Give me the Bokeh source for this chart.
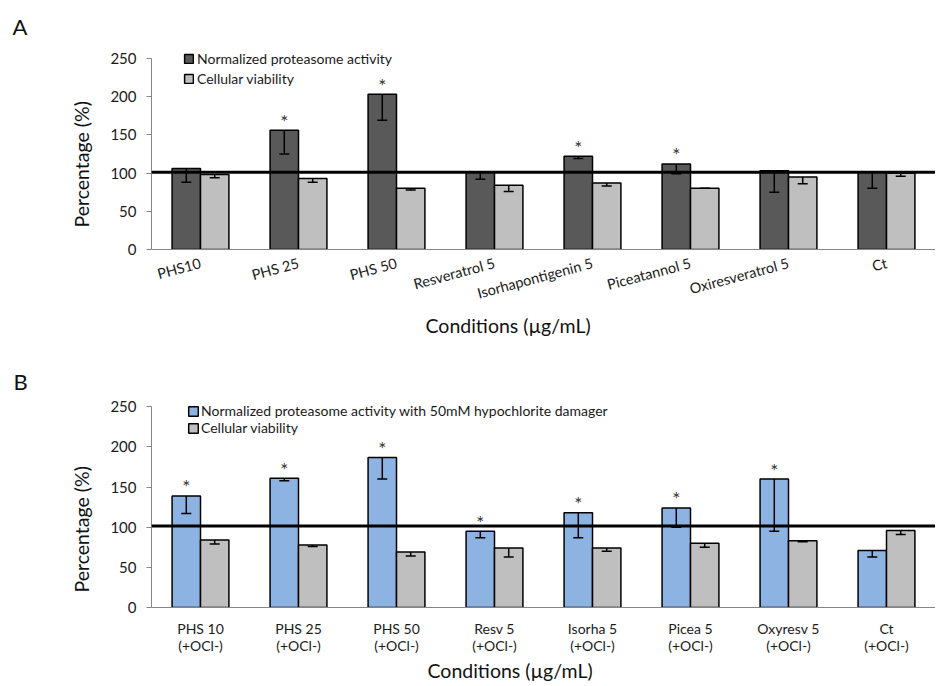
import math
from bokeh.plotting import figure
from bokeh.models import (FactorRange, Range1d, Span, Whisker, TeeHead, Legend,
                          LegendItem, Title, ColumnDataSource, FixedTicker)
from bokeh.transform import dodge
from bokeh.layouts import column
from bokeh.core.properties import value
from bokeh.embed import file_html
from bokeh.resources import INLINE

# ---------------- data ----------------
cats_a = ["PHS10", "PHS 25", "PHS 50", "Resveratrol 5", "Isorhapontigenin 5",
          "Piceatannol 5", "Oxiresveratrol 5", "Ct"]
prot_a = [106, 156, 203, 101, 122, 112, 103, 101]
prot_a_err = [18, 31, 34, 9, 3, 13, 28, 21]
via_a = [98, 93, 80, 84, 87, 80, 95, 100]
via_a_err = [4, 5, 2, 8, 4, 0, 9, 4]
sig_a = [False, True, True, False, True, True, False, False]
ref_a = 101

cats_b = ["PHS 10\n(+OCl-)", "PHS 25\n(+OCl-)", "PHS 50\n(+OCl-)", "Resv 5\n(+OCl-)",
          "Isorha 5\n(+OCl-)", "Picea 5\n(+OCl-)", "Oxyresv 5\n(+OCl-)", "Ct\n(+OCl-)"]
prot_b = [139, 161, 187, 95, 118, 124, 160, 71]
prot_b_err = [22, 3, 27, 8, 31, 24, 65, 8]
via_b = [84, 78, 69, 74, 74, 80, 83, 96]
via_b_err = [5, 2, 5, 11, 4, 5, 1, 5]
sig_b = [True, True, True, True, True, True, True, False]
ref_b = 101.5

y_ticks = [0, 50, 100, 150, 200, 250]

legend_a = ["Normalized proteasome activity", "Cellular viability"]
legend_b = ["Normalized proteasome activity with 50mM hypochlorite damager", "Cellular viability"]

FONT = "Lato"
W = 935


def panel(cats, prot, prot_err, via, via_err, sig, ref, labels, prot_color, via_color,
          height, y_end, top_border, bottom_border, letter, letter_offset, letter_standoff,
          xtitle_offset, xtitle_standoff, ytitle_offset, ytitle_standoff,
          legend_loc, glyph_size, row_h, standoff, rotate):
    src = ColumnDataSource(dict(
        cat=cats, prot=prot, via=via,
        prot_low=[v - e for v, e in zip(prot, prot_err)],
        via_low=[v - e for v, e in zip(via, via_err)],
        star=["*" if s else "" for s in sig],
    ))
    xr = FactorRange(*cats, range_padding=0)
    p = figure(width=W, height=height, x_range=xr, y_range=Range1d(0, y_end),
               output_backend="svg", toolbar_location=None,
               min_border_left=151, min_border_right=0,
               min_border_top=top_border, min_border_bottom=bottom_border)
    p.outline_line_color = None
    p.xgrid.grid_line_color = None
    p.ygrid.grid_line_color = None

    bw = 0.29
    r1 = p.vbar(x=dodge("cat", -bw / 2, range=xr), top="prot", width=bw, source=src,
                fill_color=prot_color, line_color="black", line_width=1.5)
    r2 = p.vbar(x=dodge("cat", bw / 2, range=xr), top="via", width=bw, source=src,
                fill_color=via_color, line_color="black", line_width=1.5)

    for col, low, off in (("prot", "prot_low", -bw / 2), ("via", "via_low", bw / 2)):
        w = Whisker(base=dodge("cat", off, range=xr), upper=col, lower=low, source=src,
                    upper_head=None,
                    lower_head=TeeHead(size=10, line_width=1.5, line_color="black"),
                    line_width=1.5, line_color="black", level="annotation")
        p.add_layout(w)

    p.text(x=dodge("cat", -bw / 2, range=xr), y="prot", text="star", source=src,
           text_font=value(FONT), text_font_size="19px", text_color="#333333",
           text_align="center", text_baseline="middle", y_offset=-9)

    p.add_layout(Span(location=ref, dimension="width", line_color="black", line_width=3))

    # axes
    p.yaxis.ticker = FixedTicker(ticks=y_ticks)
    p.yaxis.bounds = (0, 250)
    p.yaxis.axis_line_color = "#868686"
    p.yaxis.major_tick_line_color = "#868686"
    p.yaxis.major_tick_out = 5
    p.yaxis.major_tick_in = 0
    p.yaxis.minor_tick_line_color = None
    p.yaxis.major_label_standoff = 10
    p.yaxis.major_label_text_font = FONT
    p.yaxis.major_label_text_font_size = "15px"
    p.yaxis.major_label_text_color = "#1a1a1a"

    p.xaxis.axis_line_color = "#868686"
    p.xaxis.major_tick_line_color = None
    p.xaxis.minor_tick_line_color = None
    p.xaxis.major_tick_out = 0
    p.xaxis.major_label_text_font = FONT
    p.xaxis.major_label_text_color = "#1a1a1a"
    if rotate:
        p.xaxis.major_label_orientation = math.radians(15)
        p.xaxis.major_label_text_font_size = "14.5px"
        p.xaxis.major_label_standoff = 13
    else:
        p.xaxis.major_label_orientation = "horizontal"
        p.xaxis.major_label_text_font_size = "14px"
        p.xaxis.major_label_text_line_height = 1.0
        p.xaxis.major_label_standoff = 12

    # legend
    items = [LegendItem(label=labels[0], renderers=[r1]),
             LegendItem(label=labels[1], renderers=[r2])]
    leg = Legend(items=items, location=legend_loc, orientation="vertical",
                 glyph_width=glyph_size, glyph_height=glyph_size, label_height=row_h,
                 spacing=0, padding=0, margin=0, label_standoff=standoff,
                 border_line_color=None, background_fill_alpha=0,
                 label_text_font=FONT, label_text_font_size="14px",
                 label_text_color="#1a1a1a")
    p.add_layout(leg)

    # titles (side panels, so they are not clipped to the frame)
    p.add_layout(Title(text=letter, align="left", offset=letter_offset,
                       standoff=letter_standoff, text_font=FONT, text_font_size="22px",
                       text_font_style="normal", text_color="#111111"), "above")
    p.add_layout(Title(text="Conditions (µg/mL)", align="left", offset=xtitle_offset,
                       vertical_align="top", standoff=xtitle_standoff, text_font=FONT,
                       text_font_size="19.5px", text_font_style="normal",
                       text_color="#111111"), "below")
    p.add_layout(Title(text="Percentage (%)", align="left", offset=ytitle_offset,
                       standoff=ytitle_standoff, text_font=FONT,
                       text_font_size="19.5px", text_font_style="normal",
                       text_color="#111111"), "left")
    return p


pa = panel(cats_a, prot_a, prot_a_err, via_a, via_a_err, sig_a, ref_a, legend_a,
           "#595959", "#BFBFBF", height=340, y_end=273.5, top_border=40, bottom_border=91,
           letter="A", letter_offset=-139, letter_standoff=1,
           xtitle_offset=274, xtitle_standoff=2, ytitle_offset=22, ytitle_standoff=30,
           legend_loc=(32, 161), glyph_size=11, row_h=20, standoff=3, rotate=True)

pb = panel(cats_b, prot_b, prot_b_err, via_b, via_b_err, sig_b, ref_b, legend_b,
           "#8DB3E2", "#BFBFBF", height=345, y_end=261.6, top_border=57, bottom_border=78,
           letter="B", letter_offset=-138, letter_standoff=5,
           xtitle_offset=276, xtitle_standoff=4, ytitle_offset=15, ytitle_standoff=30,
           legend_loc=(36, 171), glyph_size=12, row_h=16, standoff=2, rotate=False)

layout = column(pa, pb, spacing=0)
open("out.html", "w").write(file_html(layout, INLINE))
